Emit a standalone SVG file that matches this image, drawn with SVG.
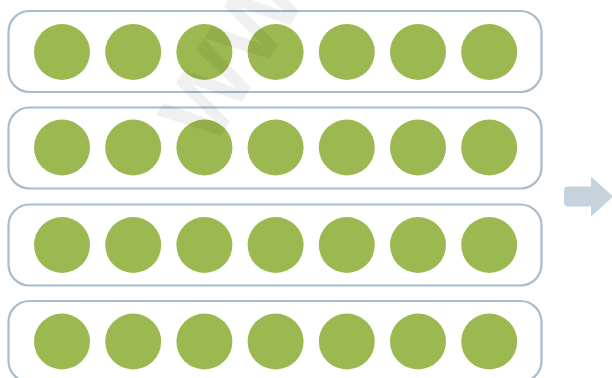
<svg xmlns="http://www.w3.org/2000/svg" width="612" height="378" viewBox="0 0 612 378">
<defs>
<style>
.row{fill:#fff;stroke:#a8bccb;stroke-width:2.2}
.dot{fill:#9bb950}
.wm{font-family:"Liberation Sans",Arial,sans-serif;font-weight:bold;font-size:96px;fill:#000;fill-opacity:0.06}
</style>
<g id="dots">
<circle class="dot" cx="62" cy="0" r="28"/>
<circle class="dot" cx="133.2" cy="0" r="28"/>
<circle class="dot" cx="204.4" cy="0" r="28"/>
<circle class="dot" cx="275.6" cy="0" r="28"/>
<circle class="dot" cx="346.8" cy="0" r="28"/>
<circle class="dot" cx="418" cy="0" r="28"/>
<circle class="dot" cx="489.2" cy="0" r="28"/>
</g>
</defs>
<rect width="612" height="378" fill="#fff"/>
<g id="row1"><rect class="row" x="8.5" y="11" width="533" height="81" rx="21"/><use href="#dots" y="52"/></g>
<g id="row2"><rect class="row" x="8.5" y="107.5" width="533" height="81" rx="21"/><use href="#dots" y="147.5"/></g>
<g id="row3"><rect class="row" x="8.5" y="204.5" width="533" height="81" rx="21"/><use href="#dots" y="245"/></g>
<g id="row4"><rect class="row" x="8.5" y="301" width="533" height="81" rx="21"/><use href="#dots" y="341.5"/></g>
<g id="connectors">
<path d="M568,186.5 H591 V176.5 L613,196.5 L591,216.5 V206.5 H568 Q564,206.5 564,202.5 V190.5 Q564,186.5 568,186.5 Z" fill="#c5d3dd"/>
</g>
<text class="wm" x="0" y="0" transform="translate(212,150) rotate(-58)">WW</text>
</svg>
